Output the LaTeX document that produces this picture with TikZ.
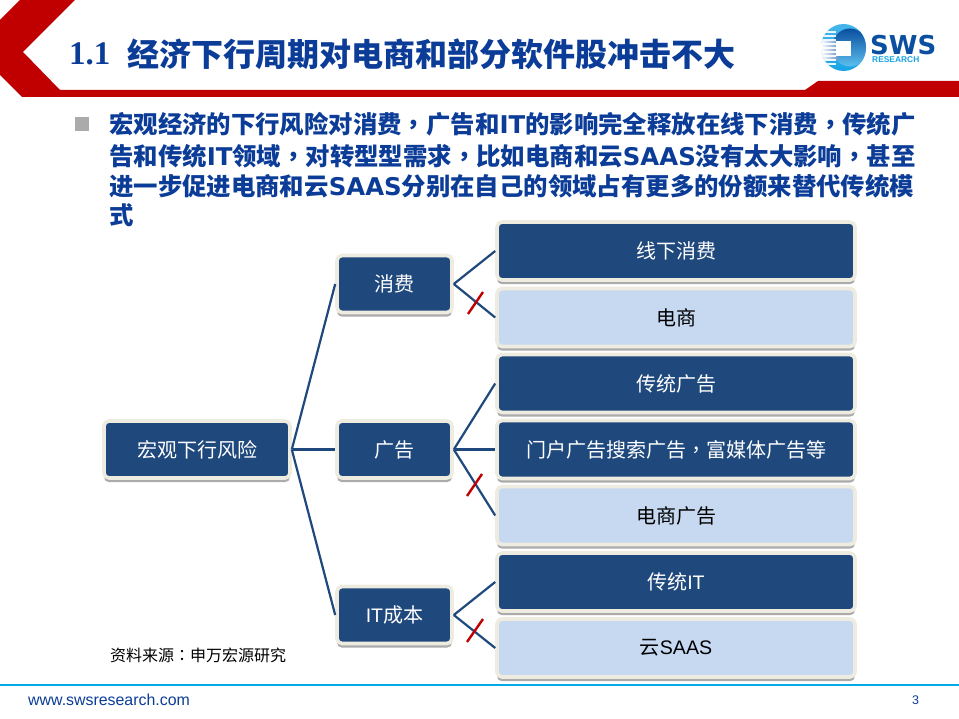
\documentclass[tikz,border=0pt]{standalone}
\usepackage{fontspec}
\setmainfont{Noto Sans CJK SC}
\newfontfamily\latinsans{Liberation Sans}
\newfontfamily\latinserif{Liberation Serif}
\newfontfamily\latinbold{DejaVu Sans}
\newfontfamily\tcfont{Noto Sans CJK TC}
\newcommand{\lbl}[1]{{\latinbold\bfseries #1}}
\newcommand{\lbox}[1]{{\latinsans\fontsize{19.6}{24}\selectfont #1}}
\newcommand{\tcp}[1]{{\tcfont #1}}
\usetikzlibrary{shadows}
\definecolor{dk}{HTML}{1F497D}
\definecolor{lt}{HTML}{C6D9F1}
\definecolor{crm}{HTML}{EEECE1}
\definecolor{ttl}{HTML}{0B3C97}
\definecolor{brd}{HTML}{C00000}
\definecolor{logoa}{HTML}{18A4E6}
\definecolor{logob}{HTML}{0A4FA0}
\definecolor{rule}{HTML}{00AAE6}
\tikzset{
  x=1pt,y=-1pt,
  box/.style={rectangle,rounded corners=5pt,draw=crm,line width=3.6pt,inner sep=0pt,
    font=\fontsize{20}{24}\selectfont,
    drop shadow={shadow xshift=0pt,shadow yshift=-4.2pt,opacity=.5,fill=black!65}},
  dkbox/.style={box,fill=dk,text=white},
  ltbox/.style={box,fill=lt,text=black},
  midw/.style={minimum width=115pt,minimum height=57pt},
  rightw/.style={minimum width=358pt,minimum height=58pt},
  rootw/.style={minimum width=186pt,minimum height=57pt},
  link/.style={draw=dk,line width=2.2pt},
  strike/.style={draw=brd,line width=2.4pt},
  bodyline/.style={anchor=west,inner sep=0pt,text=ttl,font=\fontsize{24.4}{28}\bfseries\selectfont},
}
\begin{document}
\begin{tikzpicture}
\useasboundingbox (0,0) rectangle (959,719);
\fill[white] (0,0) rectangle (959,719);
% header band
\fill[brd] (20,0) -- (75,0) -- (23,52) -- (60,90) -- (805,90) -- (818,81) -- (959,81) -- (959,97) -- (22,97) -- (0,75) -- (0,20) -- cycle;
\node[anchor=west,inner sep=0pt,text=ttl,font=\latinserif\fontsize{33}{36}\bfseries\selectfont] (t1) at (69,54) {1.1};
\node[anchor=west,inner sep=0pt,text=ttl,font=\fontsize{32}{36}\bfseries\selectfont] (t2) at (127,54) {经济下行周期对电商和部分软件股冲击不大};
% logo
\begin{scope}
\clip (843.5,47.5) ellipse (22.5 and 23.5);
\shade[top color=logoa!80,bottom color=logoa] (820,23) rectangle (867,72);
\shade[top color=logob,bottom color=logoa!70] (850,47.5) ellipse (18 and 19);
\shade[left color=white,right color=logob!60] (821,42) rectangle (838,60);
\foreach \yy in {31,35,39,43,47,51,55,59,63}{
  \fill[white,opacity=.9] (818,\yy) rectangle (836,\yy+1.6);
}
\end{scope}
\fill[white] (836,41) rectangle (851,56);
\node[anchor=west,inner sep=0pt,text=logob,font=\latinbold\fontsize{26}{28}\bfseries\selectfont] (logoA) at (870,45) {SWS};
\node[anchor=west,inner sep=0pt,text=logoa,font=\latinsans\fontsize{8.4}{10}\bfseries\selectfont] (logoB) at (872,60) {RESEARCH};
% bullet
\fill[black!33] (75,117) rectangle (89,131);
\node[bodyline] (b1) at (109,124.5) {宏观经济的下行风险对消费\tcp{，}广告和\lbl{IT}的影响完全释放在线下消费\tcp{，}传统广};
\node[bodyline] (b2) at (109,156) {告和传统\lbl{IT}领域\tcp{，}对转型型需求\tcp{，}比如电商和云\lbl{SAAS}没有太大影响\tcp{，}甚至};
\node[bodyline] (b3) at (109,186) {进一步促进电商和云\lbl{SAAS}分别在自己的领域占有更多的份额来替代传统模};
\node[bodyline] (b4) at (109,215) {式};
% tree
\node[dkbox,rootw] (root) at (197,449.5) {宏观下行风险};
\node[dkbox,midw] (m1) at (394.5,284) {消费};
\node[dkbox,midw] (m2) at (394.5,449.5) {广告};
\node[dkbox,midw] (m3) at (394.5,615) {\lbox{IT}成本};
\node[dkbox,rightw] (r1) at (676,251) {线下消费};
\node[ltbox,rightw] (r2) at (676,317.5) {电商};
\node[dkbox,rightw] (r3) at (676,383.5) {传统广告};
\node[dkbox,rightw] (r4) at (676,449.5) {门户广告搜索广告\tcp{，}富媒体广告等};
\node[ltbox,rightw] (r5) at (676,515.5) {电商广告};
\node[dkbox,rightw] (r6) at (676,582) {传统\lbox{IT}};
\node[ltbox,rightw] (r7) at (676,648) {云\lbox{SAAS}};
\draw[link] (root.east) -- (m1.west);
\draw[link] (root.east) -- (m2.west);
\draw[link] (root.east) -- (m3.west);
\draw[link] (m1.east) -- (r1.west);
\draw[link] (m1.east) -- (r2.west);
\draw[link] (m2.east) -- (r3.west);
\draw[link] (m2.east) -- (r4.west);
\draw[link] (m2.east) -- (r5.west);
\draw[link] (m3.east) -- (r6.west);
\draw[link] (m3.east) -- (r7.west);
\draw[strike] (468,314) -- (483,292);
\draw[strike] (467,496) -- (482,474);
\draw[strike] (467,642) -- (483,619);
% source
\node[anchor=west,inner sep=0pt,text=black,font=\fontsize{16}{20}\selectfont] (src) at (110,655) {资料来源\tcp{：}申万宏源研究};
% footer
\fill[rule] (0,683.5) rectangle (959,685.5);
\node[anchor=west,inner sep=0pt,text=ttl,font=\latinsans\fontsize{15.9}{18}\selectfont] (url) at (28,700) {www.swsresearch.com};
\node[anchor=west,inner sep=0pt,text=ttl,font=\latinsans\fontsize{12.5}{15}\selectfont] (pg) at (912,700) {3};
\end{tikzpicture}
\end{document}
